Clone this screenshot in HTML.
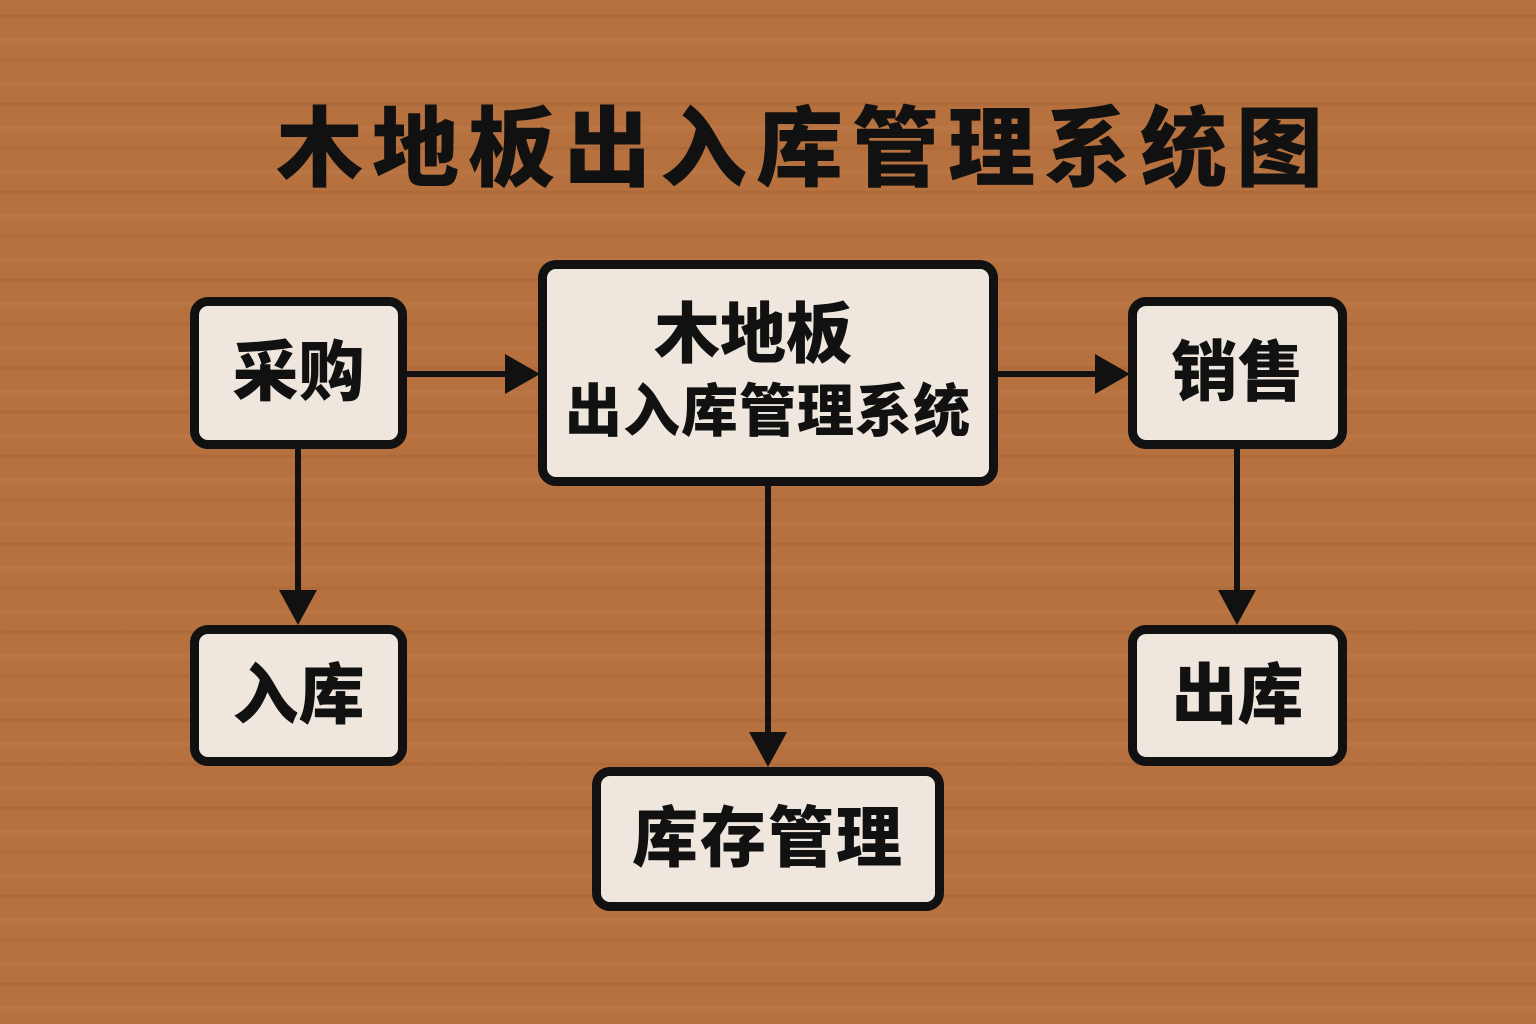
<!DOCTYPE html>
<html><head><meta charset="utf-8"><style>
body{margin:0;width:1536px;height:1024px;overflow:hidden;background:#b6713f;
background-image:repeating-linear-gradient(180deg,rgba(0,0,0,0) 0,rgba(0,0,0,0) 14px,rgba(90,40,10,.12) 16px,rgba(0,0,0,0) 19px,rgba(0,0,0,0) 37px,rgba(255,200,150,.07) 40px,rgba(0,0,0,0) 44px);
font-family:"Liberation Sans","Noto Sans CJK SC",sans-serif;position:relative}
.t{position:absolute;left:36px;width:1536px;top:95px;text-align:center;font-size:87px;font-weight:900;letter-spacing:9px;color:#111;line-height:110px}
.b{position:absolute;box-sizing:border-box;border:9px solid #111;border-radius:18px;background:#efe7dd;display:flex;align-items:center;justify-content:center;text-align:center;font-weight:900;color:#111;font-size:66px;line-height:1.2}
</style></head><body>
<div class="t">木地板出入库管理系统图</div>
<svg width="1536" height="1024" style="position:absolute;left:0;top:0">
<g stroke="#111" stroke-width="6" fill="none">
<line x1="406" y1="374" x2="505" y2="374"/>
<line x1="997" y1="374" x2="1095" y2="374"/>
<line x1="298" y1="448" x2="298" y2="595"/>
<line x1="1237" y1="448" x2="1237" y2="595"/>
<line x1="768" y1="485" x2="768" y2="737"/>
</g>
<g fill="#111">
<polygon points="505,354 540,374 505,394"/>
<polygon points="1095,354 1130,374 1095,394"/>
<polygon points="279,590 317,590 298,625"/>
<polygon points="1218,590 1256,590 1237,625"/>
<polygon points="749,732 787,732 768,767"/>
</g>
</svg>
<div class="b" style="left:190px;top:297px;width:217px;height:152px">采购</div>
<div class="b" style="left:538px;top:260px;width:460px;height:226px;flex-direction:column;line-height:78px"><div style="margin-left:-30px;font-size:66px">木地板</div><div style="font-size:57px;letter-spacing:1px">出入库管理系统</div></div>
<div class="b" style="left:1128px;top:297px;width:219px;height:152px">销售</div>
<div class="b" style="left:190px;top:625px;width:217px;height:141px">入库</div>
<div class="b" style="left:1128px;top:625px;width:219px;height:141px">出库</div>
<div class="b" style="left:592px;top:767px;width:352px;height:144px;letter-spacing:2px">库存管理</div>
</body></html>
